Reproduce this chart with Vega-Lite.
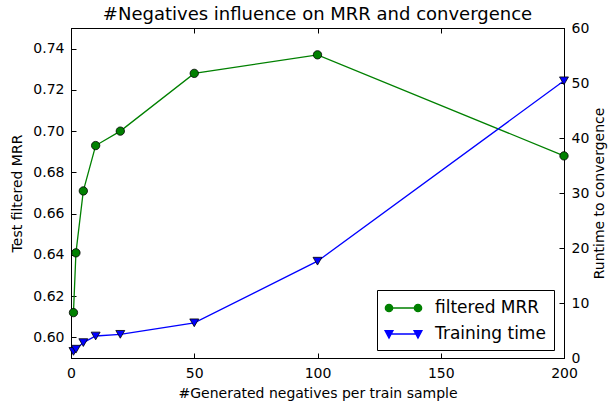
{
  "$schema": "https://vega.github.io/schema/vega-lite/v6.json",
  "width": 493,
  "height": 330,
  "autosize": {"type": "none"},
  "padding": {"left": 71, "top": 28, "right": 44, "bottom": 44},
  "background": "white",
  "title": {"text": "#Negatives influence on MRR and convergence", "font": "DejaVu Sans", "fontSize": 18, "fontWeight": "normal", "color": "black", "offset": -3},
  "data": {"values": [
    {"n": 1, "series": "filtered MRR", "value": 0.612},
    {"n": 2, "series": "filtered MRR", "value": 0.641},
    {"n": 5, "series": "filtered MRR", "value": 0.671},
    {"n": 10, "series": "filtered MRR", "value": 0.693},
    {"n": 20, "series": "filtered MRR", "value": 0.700},
    {"n": 50, "series": "filtered MRR", "value": 0.728},
    {"n": 100, "series": "filtered MRR", "value": 0.737},
    {"n": 200, "series": "filtered MRR", "value": 0.688},
    {"n": 1, "series": "Training time", "value": 1.2},
    {"n": 2, "series": "Training time", "value": 1.6},
    {"n": 5, "series": "Training time", "value": 2.8},
    {"n": 10, "series": "Training time", "value": 4.0},
    {"n": 20, "series": "Training time", "value": 4.3},
    {"n": 50, "series": "Training time", "value": 6.4},
    {"n": 100, "series": "Training time", "value": 17.6},
    {"n": 200, "series": "Training time", "value": 50.4}
  ]},
  "layer": [
    {
      "transform": [{"filter": "datum.series === 'filtered MRR'"}],
      "encoding": {
        "x": {"field": "n", "type": "quantitative", "scale": {"domain": [0, 200], "nice": false},
              "axis": {"values": [0, 50, 100, 150, 200], "title": "#Generated negatives per train sample", "orient": "bottom", "labelPadding": 13, "titlePadding": 6}},
        "y": {"field": "value", "type": "quantitative", "scale": {"domain": [0.59, 0.75], "nice": false, "zero": false},
              "axis": {"values": [0.60, 0.62, 0.64, 0.66, 0.68, 0.70, 0.72, 0.74], "format": ".2f", "title": "Test filtered MRR", "orient": "left", "titlePadding": 8}},
        "color": {"field": "series", "type": "nominal", "scale": {"domain": ["filtered MRR", "Training time"], "range": ["#008000", "#0000ff"]},
                  "legend": {"title": null,
                    "encode": {"symbols": {"update": {
                      "shape": {"signal": "datum.value === 'filtered MRR' ? 'M-1.61,0H1.61M-2.02,0a0.41,0.41 0 1,0 0.82,0a0.41,0.41 0 1,0 -0.82,0M1.2,0a0.41,0.41 0 1,0 0.82,0a0.41,0.41 0 1,0 -0.82,0' : 'M-1.61,0H1.61M-2.05,-0.38L-1.17,-0.38L-1.61,0.46ZM1.17,-0.38L2.05,-0.38L1.61,0.46Z'"},
                      "fill": {"signal": "datum.value === 'filtered MRR' ? '#008000' : '#0000ff'"},
                      "stroke": {"signal": "datum.value === 'filtered MRR' ? '#008000' : '#0000ff'"},
                      "strokeWidth": {"value": 1.3},
                      "opacity": {"value": 1}
                    }}}}}
      },
      "layer": [
        {"mark": {"type": "line", "strokeWidth": 1.3}},
        {"mark": {"type": "point", "shape": "circle", "filled": true, "size": 70, "stroke": "black", "strokeWidth": 0.8, "opacity": 1}}
      ]
    },
    {
      "transform": [{"filter": "datum.series === 'Training time'"}],
      "encoding": {
        "x": {"field": "n", "type": "quantitative", "scale": {"domain": [0, 200], "nice": false},
              "axis": {"values": [0, 50, 100, 150, 200], "title": null, "labels": false, "orient": "top"}},
        "y": {"field": "value", "type": "quantitative", "scale": {"domain": [0, 60], "nice": false},
              "axis": {"values": [0, 10, 20, 30, 40, 50, 60], "title": "Runtime to convergence", "orient": "right", "titleAngle": 270, "titlePadding": 18}},
        "color": {"field": "series", "type": "nominal"}
      },
      "layer": [
        {"mark": {"type": "line", "strokeWidth": 1.3}},
        {"mark": {"type": "point", "shape": "triangle-down", "filled": true, "size": 80, "stroke": "black", "strokeWidth": 0.8, "opacity": 1}}
      ]
    }
  ],
  "resolve": {"scale": {"y": "independent"}, "axis": {"x": "independent"}},
  "config": {
    "view": {"stroke": "black", "strokeWidth": 1},
    "axis": {
      "grid": false, "domainColor": "black", "tickColor": "black", "tickSize": -5, "labelFlush": false,
      "labelFont": "DejaVu Sans", "labelFontSize": 14, "labelColor": "black", "labelPadding": 12,
      "titleFont": "DejaVu Sans", "titleFontSize": 14, "titleFontWeight": "normal", "titleColor": "black"
    },
    "legend": {
      "orient": "none", "legendX": 306, "legendY": 262,
      "strokeColor": "black", "fillColor": "white", "padding": 8,
      "labelFont": "DejaVu Sans", "labelFontSize": 17, "labelColor": "black",
      "symbolSize": 324, "symbolOffset": 8.5, "labelOffset": 21.5, "rowPadding": 8,
      "symbolOpacity": 1, "cornerRadius": 0
    }
  }
}
